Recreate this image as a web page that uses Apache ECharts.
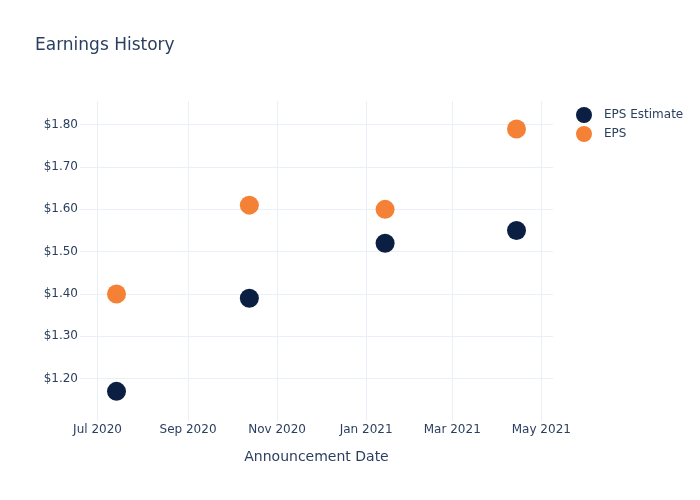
<!DOCTYPE html>
<html>
<head>
<meta charset="utf-8">
<script src="https://cdn.jsdelivr.net/npm/echarts@6/dist/echarts.min.js"></script>
<style>html,body{margin:0;padding:0;background:#fff}#c{width:700px;height:500px}</style>
</head>
<body>
<div id="c"></div>
<script>
const dates = ['2020-07-14', '2020-10-13', '2021-01-14', '2021-04-14'];
const epsEstimate = [1.17, 1.39, 1.52, 1.55];
const eps = [1.40, 1.61, 1.60, 1.79];
const monthNames = ['Jan','Feb','Mar','Apr','May','Jun','Jul','Aug','Sep','Oct','Nov','Dec'];

const FONT = 'DejaVu Sans';
const TXT = '#2a3f5f';
const GRID = '#ebf0f8';

const chart = echarts.init(document.getElementById('c'));
chart.setOption({
  useUTC: true,
  animation: false,
  textStyle: { fontFamily: FONT },
  title: {
    text: 'Earnings History',
    left: 30, top: 32,
    textStyle: { fontFamily: FONT, fontSize: 17, fontWeight: 'normal', color: TXT }
  },
  legend: {
    orient: 'vertical',
    left: 571, top: 102,
    itemWidth: 16, itemHeight: 16, itemGap: 3,
    icon: 'circle',
    textStyle: { fontFamily: FONT, fontSize: 12, color: TXT, padding: [0, 0, 0, 7] },
    data: ['EPS Estimate', 'EPS']
  },
  grid: { left: 80, right: 147, top: 101, bottom: 79, containLabel: false },
  xAxis: {
    type: 'time',
    min: Date.UTC(2020, 5, 19),
    max: Date.UTC(2021, 4, 9),
    minInterval: 61 * 86400000,
    maxInterval: 61 * 86400000,
    name: 'Announcement Date',
    nameLocation: 'middle',
    nameGap: 29,
    nameTextStyle: { fontFamily: FONT, fontSize: 14, color: TXT },
    axisLine: { show: false },
    axisTick: { show: false },
    axisLabel: {
      fontFamily: FONT, fontSize: 12, color: TXT, margin: 3,
      showMinLabel: false, showMaxLabel: false,
      hideOverlap: false,
      formatter: function (v) {
        const d = new Date(v);
        return monthNames[d.getUTCMonth()] + ' ' + d.getUTCFullYear();
      },
      rich: {}
    },
    splitLine: { show: true, showMinLine: false, showMaxLine: false, lineStyle: { color: GRID, width: 1 } }
  },
  yAxis: {
    type: 'value',
    min: 1.1,
    max: 1.856,
    interval: 0.1,
    axisLine: { show: false },
    axisTick: { show: false },
    axisLabel: {
      fontFamily: FONT, fontSize: 12, color: TXT, margin: 2,
      showMinLabel: false, showMaxLabel: false,
      formatter: v => '$' + v.toFixed(2)
    },
    splitLine: { show: true, showMinLine: false, showMaxLine: false, lineStyle: { color: GRID, width: 1 } }
  },
  series: [
    {
      name: 'EPS Estimate', type: 'scatter', symbolSize: 19,
      itemStyle: { color: '#0b1f42', opacity: 1 },
      data: dates.map((d, i) => [d, epsEstimate[i]])
    },
    {
      name: 'EPS', type: 'scatter', symbolSize: 19,
      itemStyle: { color: '#f58137', opacity: 1 },
      data: dates.map((d, i) => [d, eps[i]])
    }
  ]
});
</script>
</body>
</html>
